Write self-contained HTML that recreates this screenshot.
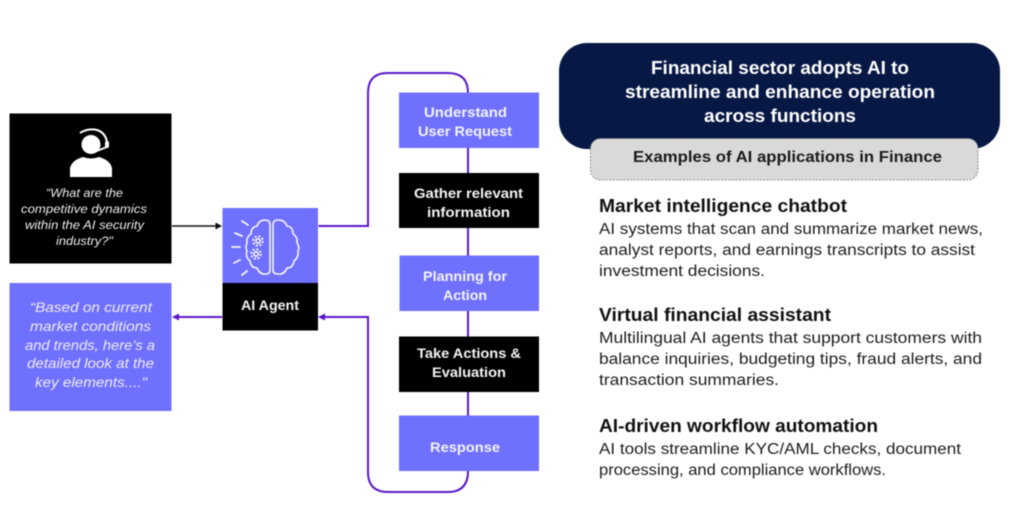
<!DOCTYPE html>
<html>
<head>
<meta charset="utf-8">
<style>
html,body{margin:0;padding:0;background:#fff;width:1024px;height:518px;overflow:hidden}
svg{display:block;filter:blur(0.45px)}
text{font-family:"Liberation Sans",sans-serif}
.b{font-weight:700;fill:#f4f4f8;font-size:14px}
.i{font-style:italic;fill:#ececf4}
.k{fill:#1c1c1c;font-size:15.5px}
.h{fill:#111;font-weight:700;font-size:18px}
</style>
</head>
<body>
<svg width="1024" height="518" viewBox="0 0 1024 518" xmlns="http://www.w3.org/2000/svg">
<rect width="1024" height="518" fill="#fff"/>
<!-- left boxes -->
<rect x="9.500" y="113.500" width="162" height="150" fill="#000"/>
<rect x="9.500" y="283" width="162" height="128" fill="#7070ff"/>
<!-- person icon -->
<path d="M70 177V168Q72 160 83 157Q91 160 99 157Q110 160 112 168V177Z" fill="#fff"/>
<circle cx="91" cy="144.500" r="9.500" fill="#fff"/>
<path d="M80 133Q88 128 97 130Q106 133 107 143" fill="none" stroke="#fff" stroke-width="2"/>
<path d="M107 147L94 152" fill="none" stroke="#fff" stroke-width="2"/>
<rect x="105" y="141" width="4" height="7" rx="2" fill="#fff"/>
<!-- agent -->
<rect x="222.500" y="208" width="95.500" height="75" fill="#7070ff"/>
<rect x="222.500" y="283" width="95.500" height="47.500" fill="#000"/>
<!-- brain icon -->
<g fill="none" stroke="#f4f4ff" stroke-width="1.600" stroke-linecap="round" stroke-linejoin="round">
<path d="M270 225Q270 220 265 220Q259 220 257 226Q251 227 251 234Q246 237 247 243Q245 247 247 251Q245 257 250 261Q251 268 257 268Q260 275 266 274Q270 274 270 270Z"/>
<path d="M273 225Q273 220 278 220Q285 220 287 226Q293 227 293 234Q298 237 297 243Q300 247 298 251Q299 257 294 261Q293 268 287 268Q284 275 278 274Q273 274 273 270Z"/>
<circle cx="258" cy="241" r="2.200"/>
<circle cx="258" cy="241" r="4.800" stroke-width="2" stroke-dasharray="2 1.800" stroke-linecap="butt"/>
<circle cx="256" cy="254" r="2.200"/>
<circle cx="256" cy="254" r="4.800" stroke-width="2" stroke-dasharray="2 1.800" stroke-linecap="butt"/>
<path d="M242 221L248 225M235 233L242 236M232 247H240M234 263L240 260M242 275L247 271" stroke-width="1.800"/>
</g>
<!-- connectors -->
<g fill="none" stroke="#5a18c8" stroke-width="2">
<path d="M318.500 226H368V93Q368 73 388 73H448Q468 73 468 93V471"/>
<path d="M468 471Q468 492 448 492H388Q368 492 368 472V317H325"/>
<path d="M222 317H178"/>
</g>
<path d="M172 226H216" stroke="#111" stroke-width="1.500"/>
<path d="M222 226L215.500 222.500V229.500Z" fill="#111"/>
<path d="M172 317L179 313.500V320.500Z" fill="#5a18c8"/>
<path d="M318 317L325 313.500V320.500Z" fill="#5a18c8"/>
<!-- steps -->
<rect x="399" y="92.500" width="140" height="55.500" fill="#7070ff"/>
<rect x="399" y="173" width="140" height="55" fill="#000"/>
<rect x="399.500" y="255.500" width="139.500" height="55.500" fill="#7070ff"/>
<rect x="399" y="336.500" width="140" height="55.500" fill="#000"/>
<rect x="399" y="415.500" width="140" height="55.500" fill="#7070ff"/>
<!-- header -->
<rect x="559" y="43" width="441" height="106" rx="28" fill="#081845"/>
<rect x="590.500" y="138.500" width="387.500" height="41.500" rx="10" fill="#d9d9d9" stroke="#777" stroke-width=".8" stroke-dasharray="2 1.500"/>
<!-- text -->
<g class="i" font-size="12">
<text x="46" y="197" textLength="77" lengthAdjust="spacingAndGlyphs">“What are the</text>
<text x="21" y="213" textLength="126" lengthAdjust="spacingAndGlyphs">competitive dynamics</text>
<text x="25" y="229" textLength="119" lengthAdjust="spacingAndGlyphs">within the AI security</text>
<text x="56" y="245" textLength="57" lengthAdjust="spacingAndGlyphs">industry?"</text>
</g>
<g class="i" font-size="14">
<text x="30" y="312" textLength="122" lengthAdjust="spacingAndGlyphs">“Based on current</text>
<text x="30" y="331" textLength="121" lengthAdjust="spacingAndGlyphs">market conditions</text>
<text x="25" y="350" textLength="130" lengthAdjust="spacingAndGlyphs">and trends, here’s a</text>
<text x="27" y="368" textLength="127" lengthAdjust="spacingAndGlyphs">detailed look at the</text>
<text x="35" y="387" textLength="112" lengthAdjust="spacingAndGlyphs">key elements...."</text>
</g>
<text class="b" x="241" y="310" textLength="58" lengthAdjust="spacingAndGlyphs">AI Agent</text>
<text class="b" x="424" y="117" textLength="83" lengthAdjust="spacingAndGlyphs">Understand</text>
<text class="b" x="418" y="136" textLength="94" lengthAdjust="spacingAndGlyphs">User Request</text>
<text class="b" x="414" y="198" textLength="109" lengthAdjust="spacingAndGlyphs">Gather relevant</text>
<text class="b" x="427" y="217" textLength="83" lengthAdjust="spacingAndGlyphs">information</text>
<text class="b" x="423" y="281" textLength="84" lengthAdjust="spacingAndGlyphs">Planning for</text>
<text class="b" x="443" y="300" textLength="44" lengthAdjust="spacingAndGlyphs">Action</text>
<text class="b" x="417" y="358" textLength="104" lengthAdjust="spacingAndGlyphs">Take Actions &amp;</text>
<text class="b" x="432" y="377" textLength="74" lengthAdjust="spacingAndGlyphs">Evaluation</text>
<text class="b" x="430" y="452" textLength="70" lengthAdjust="spacingAndGlyphs">Response</text>
<g font-weight="700" font-size="18" fill="#fff">
<text x="651" y="74" textLength="258" lengthAdjust="spacingAndGlyphs">Financial sector adopts AI to</text>
<text x="625" y="98" textLength="310" lengthAdjust="spacingAndGlyphs">streamline and enhance operation</text>
<text x="704" y="122" textLength="152" lengthAdjust="spacingAndGlyphs">across functions</text>
</g>
<text x="633" y="162" font-weight="700" font-size="15.500" fill="#1a1a1a" textLength="309" lengthAdjust="spacingAndGlyphs">Examples of AI applications in Finance</text>
<text class="h" x="599" y="212" textLength="248" lengthAdjust="spacingAndGlyphs">Market intelligence chatbot</text>
<text class="k" x="599" y="234" textLength="384" lengthAdjust="spacingAndGlyphs">AI systems that scan and summarize market news,</text>
<text class="k" x="599" y="255" textLength="376" lengthAdjust="spacingAndGlyphs">analyst reports, and earnings transcripts to assist</text>
<text class="k" x="599" y="276" textLength="166" lengthAdjust="spacingAndGlyphs">investment decisions.</text>
<text class="h" x="599" y="321" textLength="232" lengthAdjust="spacingAndGlyphs">Virtual financial assistant</text>
<text class="k" x="599" y="343" textLength="383" lengthAdjust="spacingAndGlyphs">Multilingual AI agents that support customers with</text>
<text class="k" x="599" y="364" textLength="383" lengthAdjust="spacingAndGlyphs">balance inquiries, budgeting tips, fraud alerts, and</text>
<text class="k" x="599" y="385" textLength="180" lengthAdjust="spacingAndGlyphs">transaction summaries.</text>
<text class="h" x="599" y="432" textLength="279" lengthAdjust="spacingAndGlyphs">AI-driven workflow automation</text>
<text class="k" x="599" y="454" textLength="362" lengthAdjust="spacingAndGlyphs">AI tools streamline KYC/AML checks, document</text>
<text class="k" x="599" y="475" textLength="287" lengthAdjust="spacingAndGlyphs">processing, and compliance workflows.</text>
</svg>
</body>
</html>
